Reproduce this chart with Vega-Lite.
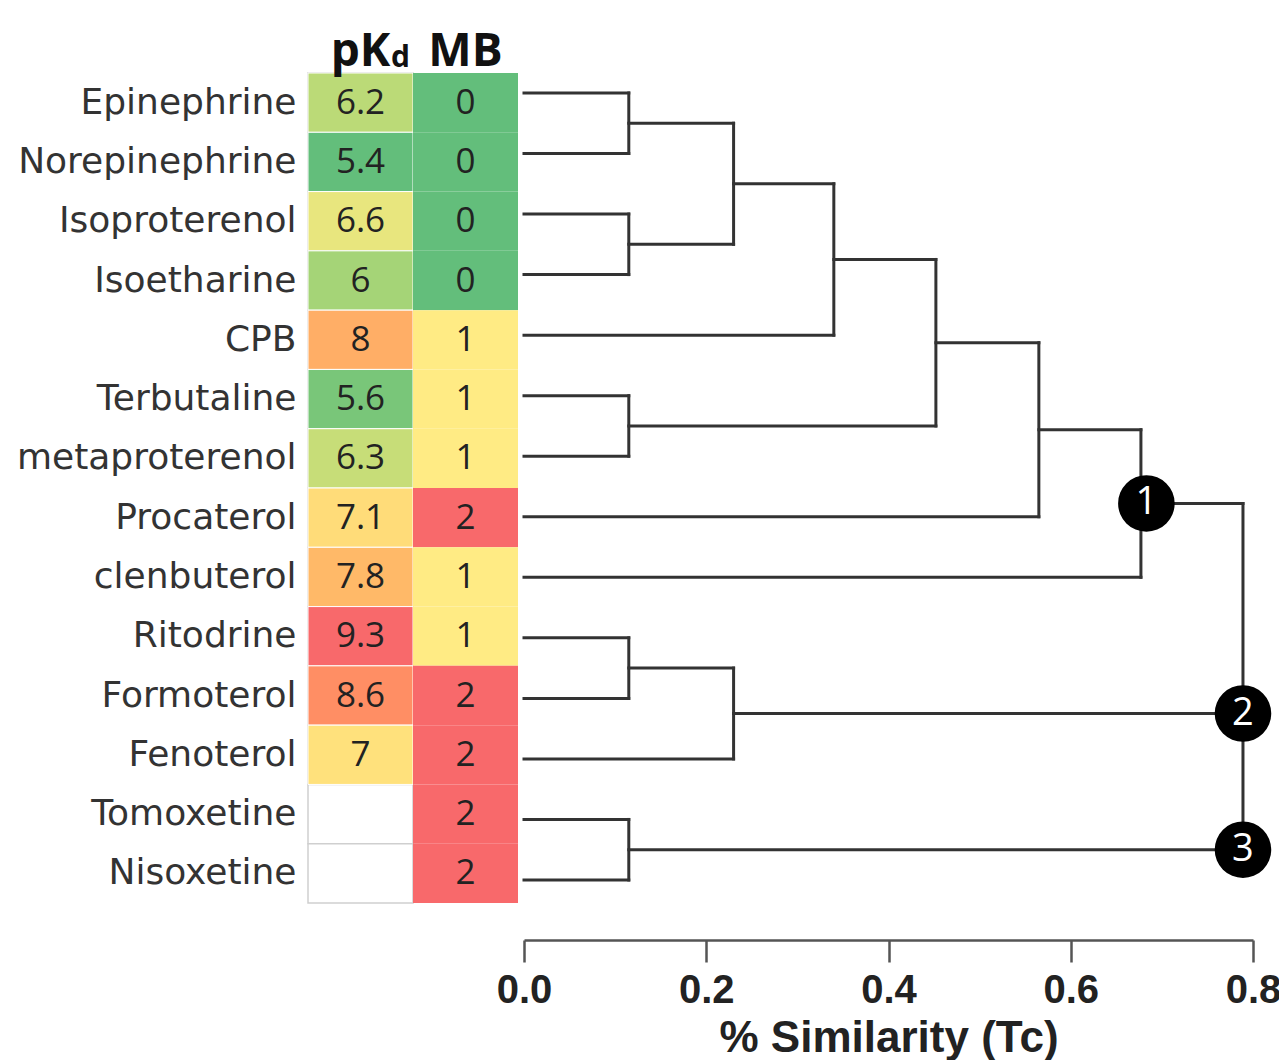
{
  "$schema": "https://vega.github.io/schema/vega-lite/v6.json",
  "background": "white",
  "padding": {"left": 16, "top": 28, "right": 0, "bottom": 0},
  "bounds": "flush",
  "config": {"view": {"stroke": null}, "concat": {"spacing": 6}},
  "datasets": {
    "cells": [
      {"drug": "Epinephrine", "metric": "pKd", "value": 6.2},
      {"drug": "Epinephrine", "metric": "MB", "value": 0},
      {"drug": "Norepinephrine", "metric": "pKd", "value": 5.4},
      {"drug": "Norepinephrine", "metric": "MB", "value": 0},
      {"drug": "Isoproterenol", "metric": "pKd", "value": 6.6},
      {"drug": "Isoproterenol", "metric": "MB", "value": 0},
      {"drug": "Isoetharine", "metric": "pKd", "value": 6},
      {"drug": "Isoetharine", "metric": "MB", "value": 0},
      {"drug": "CPB", "metric": "pKd", "value": 8},
      {"drug": "CPB", "metric": "MB", "value": 1},
      {"drug": "Terbutaline", "metric": "pKd", "value": 5.6},
      {"drug": "Terbutaline", "metric": "MB", "value": 1},
      {"drug": "metaproterenol", "metric": "pKd", "value": 6.3},
      {"drug": "metaproterenol", "metric": "MB", "value": 1},
      {"drug": "Procaterol", "metric": "pKd", "value": 7.1},
      {"drug": "Procaterol", "metric": "MB", "value": 2},
      {"drug": "clenbuterol", "metric": "pKd", "value": 7.8},
      {"drug": "clenbuterol", "metric": "MB", "value": 1},
      {"drug": "Ritodrine", "metric": "pKd", "value": 9.3},
      {"drug": "Ritodrine", "metric": "MB", "value": 1},
      {"drug": "Formoterol", "metric": "pKd", "value": 8.6},
      {"drug": "Formoterol", "metric": "MB", "value": 2},
      {"drug": "Fenoterol", "metric": "pKd", "value": 7},
      {"drug": "Fenoterol", "metric": "MB", "value": 2},
      {"drug": "Tomoxetine", "metric": "pKd", "value": null},
      {"drug": "Tomoxetine", "metric": "MB", "value": 2},
      {"drug": "Nisoxetine", "metric": "pKd", "value": null},
      {"drug": "Nisoxetine", "metric": "MB", "value": 2}
    ],
    "segs": [
      {"x": 0, "x2": 0.115, "y": 0, "y2": 0},
      {"x": 0, "x2": 0.115, "y": 1, "y2": 1},
      {"x": 0, "x2": 0.115, "y": 2, "y2": 2},
      {"x": 0, "x2": 0.115, "y": 3, "y2": 3},
      {"x": 0, "x2": 0.34, "y": 4, "y2": 4},
      {"x": 0, "x2": 0.115, "y": 5, "y2": 5},
      {"x": 0, "x2": 0.115, "y": 6, "y2": 6},
      {"x": 0, "x2": 0.565, "y": 7, "y2": 7},
      {"x": 0, "x2": 0.677, "y": 8, "y2": 8},
      {"x": 0, "x2": 0.115, "y": 9, "y2": 9},
      {"x": 0, "x2": 0.115, "y": 10, "y2": 10},
      {"x": 0, "x2": 0.23, "y": 11, "y2": 11},
      {"x": 0, "x2": 0.115, "y": 12, "y2": 12},
      {"x": 0, "x2": 0.115, "y": 13, "y2": 13},
      {"x": 0.115, "x2": 0.115, "y": 0, "y2": 1},
      {"x": 0.115, "x2": 0.115, "y": 2, "y2": 3},
      {"x": 0.23, "x2": 0.23, "y": 0.5, "y2": 2.5},
      {"x": 0.34, "x2": 0.34, "y": 1.5, "y2": 4},
      {"x": 0.115, "x2": 0.115, "y": 5, "y2": 6},
      {"x": 0.452, "x2": 0.452, "y": 2.75, "y2": 5.5},
      {"x": 0.565, "x2": 0.565, "y": 4.125, "y2": 7},
      {"x": 0.677, "x2": 0.677, "y": 5.5625, "y2": 8},
      {"x": 0.115, "x2": 0.115, "y": 9, "y2": 10},
      {"x": 0.23, "x2": 0.23, "y": 9.5, "y2": 11},
      {"x": 0.115, "x2": 0.115, "y": 12, "y2": 13},
      {"x": 0.789, "x2": 0.789, "y": 6.78, "y2": 12.5},
      {"x": 0.115, "x2": 0.23, "y": 0.5, "y2": 0.5},
      {"x": 0.115, "x2": 0.23, "y": 2.5, "y2": 2.5},
      {"x": 0.23, "x2": 0.34, "y": 1.5, "y2": 1.5},
      {"x": 0.34, "x2": 0.452, "y": 2.75, "y2": 2.75},
      {"x": 0.115, "x2": 0.452, "y": 5.5, "y2": 5.5},
      {"x": 0.452, "x2": 0.565, "y": 4.125, "y2": 4.125},
      {"x": 0.565, "x2": 0.677, "y": 5.5625, "y2": 5.5625},
      {"x": 0.677, "x2": 0.789, "y": 6.78, "y2": 6.78},
      {"x": 0.115, "x2": 0.23, "y": 9.5, "y2": 9.5},
      {"x": 0.23, "x2": 0.789, "y": 10.25, "y2": 10.25},
      {"x": 0.115, "x2": 0.789, "y": 12.5, "y2": 12.5}
    ],
    "clusters": [
      {"label": "1", "x": 0.683, "y": 6.78},
      {"label": "2", "x": 0.789, "y": 10.25},
      {"label": "3", "x": 0.789, "y": 12.5}
    ]
  },
  "hconcat": [
    {
      "width": 210,
      "height": 830,
      "data": {"name": "cells"},
      "encoding": {
        "y": {
          "field": "drug", "type": "nominal", "sort": null,
          "scale": {"paddingInner": 0, "paddingOuter": 0},
          "axis": {"title": null, "orient": "left", "ticks": false, "tickSize": 0, "domain": false,
                   "labelFontSize": 36, "labelFont": "DejaVu Sans", "labelColor": "#333",
                   "labelPadding": 12, "labelLimit": 500}
        },
        "x": {
          "field": "metric", "type": "nominal",
          "scale": {"domain": ["pKd", "MB"], "paddingInner": 0, "paddingOuter": 0},
          "axis": {"orient": "top", "title": null, "ticks": false, "tickSize": 0, "domain": false,
                   "labelAngle": 0, "labelFontSize": 46, "labelFontWeight": "bold", "labelFont": "Open Sans",
                   "labelColor": "#111", "labelPadding": 8, "labelBaseline": "alphabetic",
                   "labelExpr": "datum.value == 'pKd' ? 'pK' : 'MB'"}
        }
      },
      "layer": [
        {
          "transform": [{"filter": "datum.metric == 'pKd'"}],
          "mark": {"type": "rect", "fill": "#ffffff", "stroke": "#cfcfcf", "strokeWidth": 1.5}
        },
        {
          "transform": [{"filter": "datum.metric == 'pKd' && isValid(datum.value)"}],
          "mark": {"type": "rect", "stroke": "#ffffff", "strokeWidth": 1},
          "encoding": {
            "color": {"field": "value", "type": "quantitative",
                      "scale": {"domain": [5.4, 6.8, 9.3], "range": ["#63BE7B", "#FFEB84", "#F8696B"]},
                      "legend": null}
          }
        },
        {
          "transform": [{"filter": "datum.metric == 'MB'"}],
          "mark": {"type": "rect"},
          "encoding": {
            "fill": {"field": "value", "type": "ordinal",
                     "scale": {"domain": [0, 1, 2], "range": ["#63BE7B", "#FFEB84", "#F8696B"]},
                     "legend": null}
          }
        },
        {
          "transform": [{"filter": "isValid(datum.value)"}],
          "mark": {"type": "text", "fontSize": 35, "font": "Open Sans", "color": "#222"},
          "encoding": {"text": {"field": "value", "type": "nominal"}}
        },
        {
          "data": {"values": [{"sub": "d"}]},
          "mark": {"type": "text", "fontSize": 30, "fontWeight": "bold", "font": "Open Sans", "color": "#111",
                   "baseline": "alphabetic", "dx": 40, "dy": -6},
          "encoding": {"x": {"datum": "pKd"}, "y": {"value": 0}, "text": {"field": "sub"}}
        }
      ]
    },
    {
      "width": 729,
      "height": 830,
      "layer": [
        {
          "data": {"name": "segs"},
          "mark": {"type": "rule", "color": "#333", "strokeWidth": 3, "strokeCap": "square"},
          "encoding": {
            "x": {"field": "x", "type": "quantitative",
                  "scale": {"domain": [0, 0.8], "nice": false, "zero": false},
                  "axis": {"title": "% Similarity (Tc)", "values": [0, 0.2, 0.4, 0.6, 0.8], "format": ".1f",
                           "grid": false, "offset": 37, "tickSize": 22, "tickWidth": 2.5, "tickColor": "#555",
                           "domainColor": "#555", "domainWidth": 2.5, "labelFont": "Liberation Sans",
                           "labelFontSize": 40, "labelFontWeight": "bold", "labelColor": "#222",
                           "labelPadding": 8, "labelFlush": false, "titleFont": "Liberation Sans",
                           "titleFontSize": 44, "titleFontWeight": "bold", "titleColor": "#222", "titlePadding": 6}},
            "x2": {"field": "x2"},
            "y": {"field": "y", "type": "quantitative",
                  "scale": {"domain": [-0.33, 13.38], "reverse": true, "nice": false, "zero": false},
                  "axis": null},
            "y2": {"field": "y2"}
          }
        },
        {
          "data": {"name": "clusters"},
          "mark": {"type": "point", "filled": true, "color": "#000", "size": 3200, "opacity": 1},
          "encoding": {
            "x": {"field": "x", "type": "quantitative"},
            "y": {"field": "y", "type": "quantitative"}
          }
        },
        {
          "data": {"name": "clusters"},
          "mark": {"type": "text", "color": "#ffffff", "fontSize": 38, "font": "Open Sans"},
          "encoding": {
            "x": {"field": "x", "type": "quantitative"},
            "y": {"field": "y", "type": "quantitative"},
            "text": {"field": "label"}
          }
        }
      ]
    }
  ]
}
